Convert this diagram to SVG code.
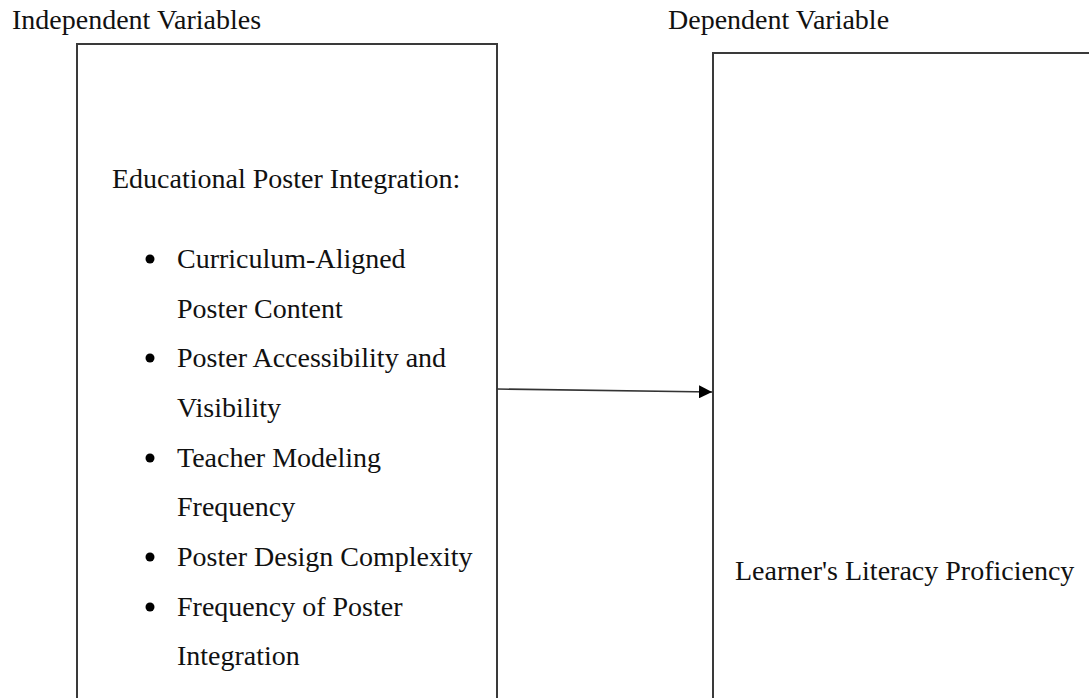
<svg xmlns="http://www.w3.org/2000/svg" width="1089" height="698" viewBox="0 0 1089 698">
<style>
text{font-family:"Liberation Serif","Times New Roman",serif;font-size:28px;fill:#111}
.box{fill:none;stroke:#3a3a3a;stroke-width:2}
.conn{stroke:#333;stroke-width:1.6;fill:none}
</style>
<defs>
<marker id="arr" viewBox="0 0 10 10" refX="10" refY="5" markerWidth="13" markerHeight="13" markerUnits="userSpaceOnUse" orient="auto">
<path d="M0,0 L10,5 L0,10 Z" fill="#000"/>
</marker>
</defs>
<rect width="1089" height="698" fill="#fff"/>
<g id="labels">
<text x="12" y="29">Independent Variables</text>
<text x="668" y="29">Dependent Variable</text>
</g>
<g id="independent">
<path class="box" d="M77,710 L77,44 L497,44 L497,710"/>
<text x="112" y="188">Educational Poster Integration:</text>
<g fill="#000">
<circle cx="150" cy="259" r="4.5"/>
<circle cx="150" cy="358" r="4.5"/>
<circle cx="150" cy="458" r="4.5"/>
<circle cx="150" cy="557" r="4.5"/>
<circle cx="150" cy="607" r="4.5"/>
</g>
<text x="177" y="268">Curriculum-Aligned</text>
<text x="177" y="318">Poster Content</text>
<text x="177" y="367">Poster Accessibility and</text>
<text x="177" y="417">Visibility</text>
<text x="177" y="467">Teacher Modeling</text>
<text x="177" y="516">Frequency</text>
<text x="177" y="566">Poster Design Complexity</text>
<text x="177" y="616">Frequency of Poster</text>
<text x="177" y="665">Integration</text>
</g>
<g id="dependent">
<path class="box" d="M713,710 L713,53 L1100,53"/>
<text x="735" y="580">Learner's Literacy Proficiency</text>
</g>
<g id="connectors">
<line class="conn" x1="497" y1="389" x2="712" y2="392" marker-end="url(#arr)"/>
</g>
</svg>
